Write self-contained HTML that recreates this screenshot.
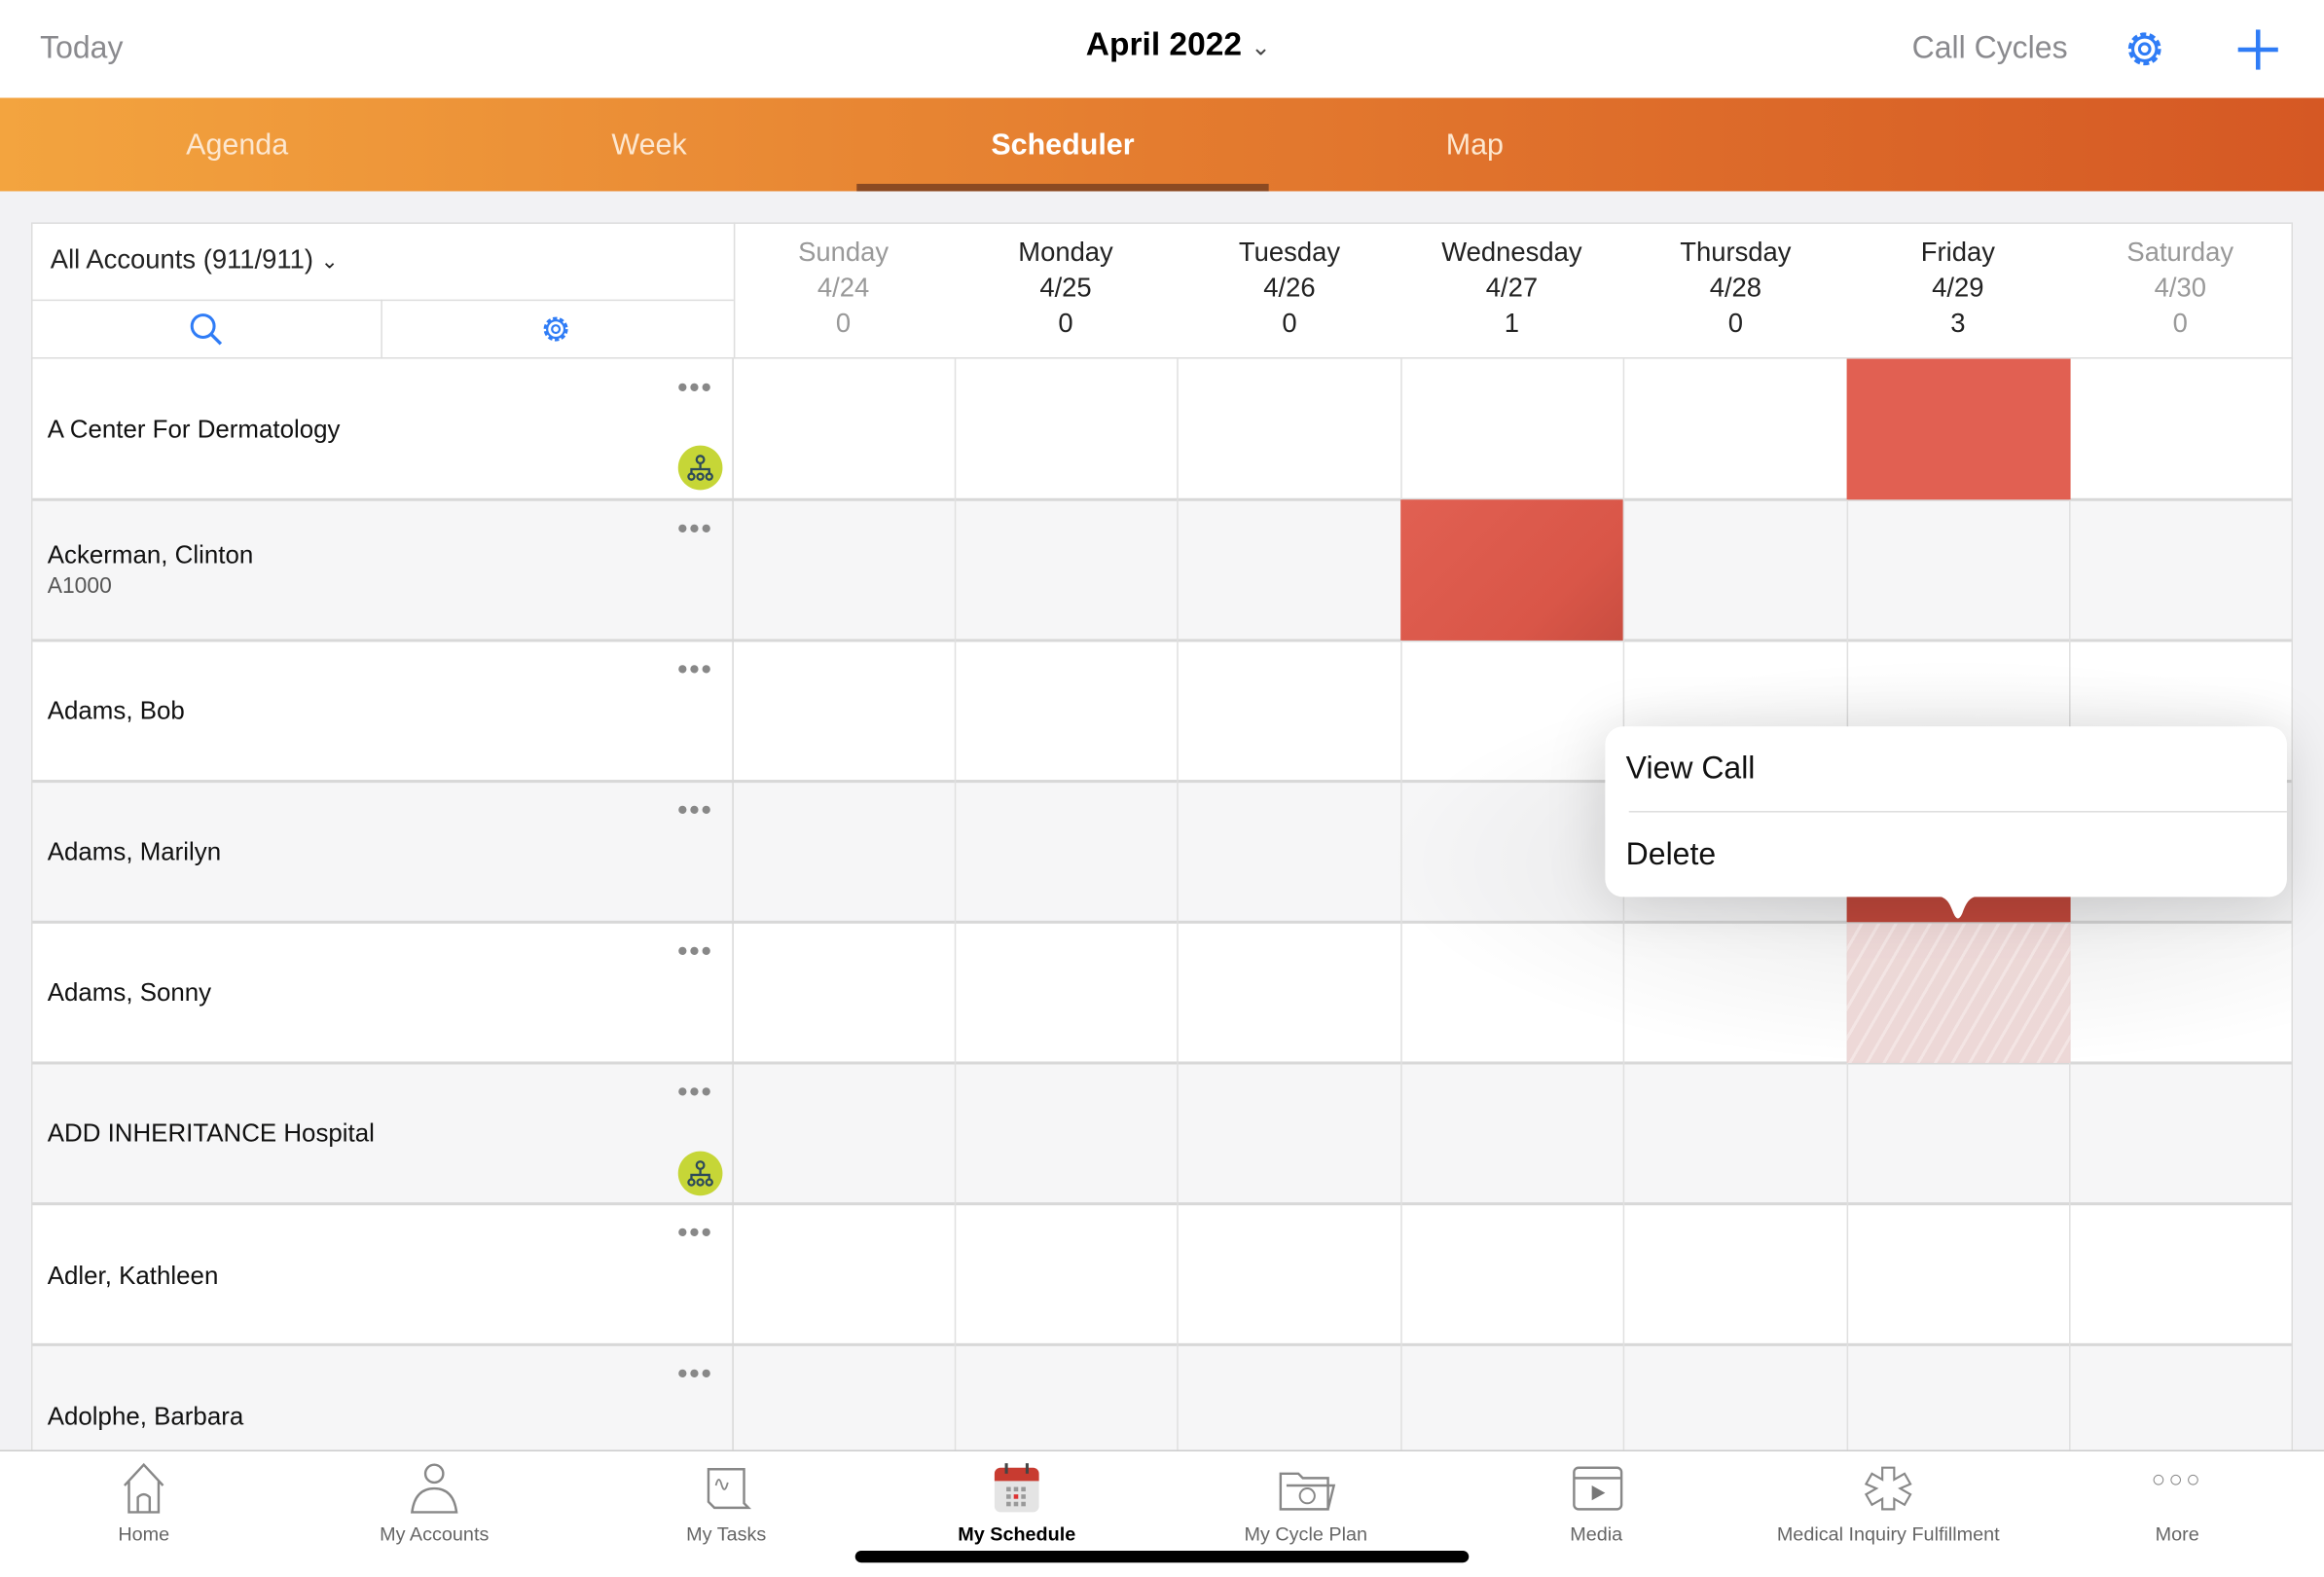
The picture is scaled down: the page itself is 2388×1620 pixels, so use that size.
<!DOCTYPE html>
<html><head><meta charset="utf-8"><style>
*{margin:0;padding:0;box-sizing:border-box}
html,body{width:2388px;height:1620px;overflow:hidden;background:#fff}
#s{position:absolute;left:0;top:0;width:1568px;height:1064px;transform:scale(1.52296);transform-origin:0 0;font-family:"Liberation Sans",sans-serif;background:#f2f2f4}
.a{position:absolute}
.t{position:absolute;white-space:nowrap}
.c{transform:translateX(-50%);text-align:center}
</style></head><body><div id="s">
<div class="a" style="left:0;top:0;width:1568px;height:66px;background:#fff"></div>
<div class="t" style="left:27px;top:21px;font-size:21px;color:#8a8a8e">Today</div>
<div class="t c" style="left:795px;top:17px;font-size:22px;font-weight:bold;color:#000">April 2022 <span style="font-weight:normal;font-size:16px;color:#444">&#8964;</span></div>
<div class="t" style="left:1290px;top:21px;font-size:21px;color:#8a8a8e">Call Cycles</div>
<svg class="a" style="left:1432px;top:18px" width="30" height="30" viewBox="0 0 30 30"><circle cx="15" cy="15" r="10" fill="none" stroke="#2f7cf6" stroke-width="2.2" stroke-dasharray="4 2.3"/><circle cx="15" cy="15" r="8" fill="none" stroke="#2f7cf6" stroke-width="2"/><circle cx="15" cy="15" r="3.5" fill="none" stroke="#2f7cf6" stroke-width="2"/></svg>
<div class="a" style="left:1510px;top:32px;width:27px;height:2.5px;background:#2f7cf6"></div>
<div class="a" style="left:1522px;top:20px;width:2.5px;height:27px;background:#2f7cf6"></div>

<div class="a" style="left:0;top:66px;width:1568px;height:63px;background:linear-gradient(90deg,#f3a43f,#e47c2f 50%,#d55824)"></div>
<div class="t c" style="left:160px;top:87px;font-size:20px;color:#fde7cf">Agenda</div>
<div class="t c" style="left:438px;top:87px;font-size:20px;color:#fde7cf">Week</div>
<div class="t c" style="left:717px;top:87px;font-size:20px;color:#fff;font-weight:bold">Scheduler</div>
<div class="t c" style="left:995px;top:87px;font-size:20px;color:#fde7cf">Map</div>
<div class="a" style="left:578px;top:124px;width:278px;height:5px;background:#8b4a22"></div>

<!-- card -->
<div class="a" style="left:21px;top:150px;width:1526px;height:840px;background:#fff;border:1px solid #ddd"></div>
<div class="a" style="left:495px;top:150px;width:1px;height:92px;background:#ddd"></div>
<div class="a" style="left:21px;top:202px;width:474px;height:1px;background:#ddd"></div>
<div class="a" style="left:257px;top:202px;width:1px;height:40px;background:#ddd"></div>
<div class="a" style="left:21px;top:241px;width:1526px;height:1px;background:#ddd"></div>
<div class="t" style="left:34px;top:165px;font-size:18px;color:#222">All Accounts (911/911) <span style="font-size:14px">&#8964;</span></div>
<svg class="a" style="left:127px;top:210px" width="24" height="24"><circle cx="10" cy="10" r="7.5" fill="none" stroke="#2f7cf6" stroke-width="2"/><line x1="15.5" y1="15.5" x2="22" y2="22" stroke="#2f7cf6" stroke-width="2.2"/></svg>
<svg class="a" style="left:364px;top:211px" width="22" height="22" viewBox="0 0 30 30"><circle cx="15" cy="15" r="10" fill="none" stroke="#2f7cf6" stroke-width="2.4" stroke-dasharray="4 2.3"/><circle cx="15" cy="15" r="8" fill="none" stroke="#2f7cf6" stroke-width="2"/><circle cx="15" cy="15" r="3.5" fill="none" stroke="#2f7cf6" stroke-width="2"/></svg>

<!-- day headers -->
<div style="font-size:18px;line-height:24px">
<div class="t c" style="left:569px;top:158px;color:#999">Sunday<br>4/24<br>0</div>
<div class="t c" style="left:719px;top:158px;color:#222">Monday<br>4/25<br>0</div>
<div class="t c" style="left:870px;top:158px;color:#222">Tuesday<br>4/26<br>0</div>
<div class="t c" style="left:1020px;top:158px;color:#222">Wednesday<br>4/27<br>1</div>
<div class="t c" style="left:1171px;top:158px;color:#222">Thursday<br>4/28<br>0</div>
<div class="t c" style="left:1321px;top:158px;color:#222">Friday<br>4/29<br>3</div>
<div class="t c" style="left:1471px;top:158px;color:#999">Saturday<br>4/30<br>0</div>
</div>

<!-- rows -->
<div class="a" style="left:22px;top:337px;width:1524px;height:95px;background:#f6f6f7"></div>
<div class="a" style="left:22px;top:527px;width:1524px;height:95px;background:#f6f6f7"></div>
<div class="a" style="left:22px;top:717px;width:1524px;height:95px;background:#f6f6f7"></div>
<div class="a" style="left:22px;top:907px;width:1524px;height:72px;background:#f6f6f7"></div>
<div class="a" style="left:22px;top:336px;width:1524px;height:1.5px;background:#d8d8d8"></div>
<div class="a" style="left:22px;top:431px;width:1524px;height:1.5px;background:#d8d8d8"></div>
<div class="a" style="left:22px;top:526px;width:1524px;height:1.5px;background:#d8d8d8"></div>
<div class="a" style="left:22px;top:621px;width:1524px;height:1.5px;background:#d8d8d8"></div>
<div class="a" style="left:22px;top:716px;width:1524px;height:1.5px;background:#d8d8d8"></div>
<div class="a" style="left:22px;top:811px;width:1524px;height:1.5px;background:#d8d8d8"></div>
<div class="a" style="left:22px;top:906px;width:1524px;height:1.5px;background:#d8d8d8"></div>
<div class="a" style="left:494px;top:242px;width:1px;height:736px;background:#d8d8d8"></div>
<div class="a" style="left:644px;top:242px;width:1px;height:736px;background:#e0e0e0"></div>
<div class="a" style="left:794px;top:242px;width:1px;height:736px;background:#e0e0e0"></div>
<div class="a" style="left:945px;top:242px;width:1px;height:736px;background:#e0e0e0"></div>
<div class="a" style="left:1095px;top:242px;width:1px;height:736px;background:#e0e0e0"></div>
<div class="a" style="left:1246px;top:242px;width:1px;height:736px;background:#e0e0e0"></div>
<div class="a" style="left:1396px;top:242px;width:1px;height:736px;background:#e0e0e0"></div>

<div style="font-size:17px;color:#111">
<div class="t" style="left:32px;top:280px">A Center For Dermatology</div>
<div class="t" style="left:32px;top:365px">Ackerman, Clinton</div>
<div class="t" style="left:32px;top:387px;font-size:15px;color:#555">A1000</div>
<div class="t" style="left:32px;top:470px">Adams, Bob</div>
<div class="t" style="left:32px;top:565px">Adams, Marilyn</div>
<div class="t" style="left:32px;top:660px">Adams, Sonny</div>
<div class="t" style="left:32px;top:755px">ADD INHERITANCE Hospital</div>
<div class="t" style="left:32px;top:851px">Adler, Kathleen</div>
<div class="t" style="left:32px;top:946px">Adolphe, Barbara</div>
</div>
<div style="color:#888;font-size:20px;letter-spacing:1px">
<div class="t" style="left:457px;top:251px">•••</div>
<div class="t" style="left:457px;top:346px">•••</div>
<div class="t" style="left:457px;top:441px">•••</div>
<div class="t" style="left:457px;top:536px">•••</div>
<div class="t" style="left:457px;top:631px">•••</div>
<div class="t" style="left:457px;top:726px">•••</div>
<div class="t" style="left:457px;top:821px">•••</div>
<div class="t" style="left:457px;top:916px">•••</div>
</div>
<svg class="a" style="left:457px;top:300px" width="31" height="31"><circle cx="15.5" cy="15.5" r="15" fill="#c6d637"/><circle cx="15.5" cy="10" r="2.5" fill="none" stroke="#2d4a5a" stroke-width="1.5"/><path d="M15.5 12.5v4M9.5 20v-3.5h12V20" fill="none" stroke="#2d4a5a" stroke-width="1.5"/><circle cx="9.5" cy="21.5" r="2" fill="none" stroke="#2d4a5a" stroke-width="1.5"/><circle cx="15.5" cy="21.5" r="2" fill="none" stroke="#2d4a5a" stroke-width="1.5"/><circle cx="21.5" cy="21.5" r="2" fill="none" stroke="#2d4a5a" stroke-width="1.5"/></svg>
<svg class="a" style="left:457px;top:776px" width="31" height="31"><circle cx="15.5" cy="15.5" r="15" fill="#c6d637"/><circle cx="15.5" cy="10" r="2.5" fill="none" stroke="#2d4a5a" stroke-width="1.5"/><path d="M15.5 12.5v4M9.5 20v-3.5h12V20" fill="none" stroke="#2d4a5a" stroke-width="1.5"/><circle cx="9.5" cy="21.5" r="2" fill="none" stroke="#2d4a5a" stroke-width="1.5"/><circle cx="15.5" cy="21.5" r="2" fill="none" stroke="#2d4a5a" stroke-width="1.5"/><circle cx="21.5" cy="21.5" r="2" fill="none" stroke="#2d4a5a" stroke-width="1.5"/></svg>

<!-- shadow overlay -->
<div class="a" style="left:900px;top:432px;width:646px;height:300px;background:radial-gradient(ellipse at 65% 50%,rgba(0,0,0,0.09),rgba(0,0,0,0) 65%)"></div>

<!-- calls -->
<div class="a" style="left:1246px;top:242px;width:151px;height:95px;background:#e16052"></div>
<div class="a" style="left:945px;top:337px;width:150px;height:95px;background:linear-gradient(135deg,#e16052,#d95648 70%,#c94d40)"></div>
<div class="a" style="left:1246px;top:604px;width:151px;height:18px;background:#b94539"></div>
<div class="a" style="left:1246px;top:623px;width:151px;height:94px;background:repeating-linear-gradient(-60deg,#ecd6d5 0 8px,#f3e4e3 8px 10px);opacity:.95"></div>

<!-- popup -->
<div class="a" style="left:1083px;top:490px;width:460px;height:115px;background:#fff;border-radius:12px;box-shadow:0 4px 40px rgba(0,0,0,0.15)"></div>
<svg class="a" style="left:1303px;top:604px" width="36" height="19"><path d="M0 0 C10 0 12 4 15 12 Q18 19 21 12 C24 4 26 0 36 0Z" fill="#fff"/></svg>
<div class="a" style="left:1099px;top:547px;width:444px;height:1px;background:#ddd"></div>
<div class="t" style="left:1097px;top:507px;font-size:21px;color:#111">View Call</div>
<div class="t" style="left:1097px;top:565px;font-size:21px;color:#111">Delete</div>

<!-- bottom bar -->
<div class="a" style="left:0;top:978px;width:1568px;height:86px;background:#fff;border-top:1.5px solid #ccc"></div>
<div style="font-size:13px;color:#666">
<div class="t c" style="left:97px;top:1027px">Home</div>
<div class="t c" style="left:293px;top:1027px">My Accounts</div>
<div class="t c" style="left:490px;top:1027px">My Tasks</div>
<div class="t c" style="left:686px;top:1027px;color:#000;font-weight:bold">My Schedule</div>
<div class="t c" style="left:881px;top:1027px">My Cycle Plan</div>
<div class="t c" style="left:1077px;top:1027px">Media</div>
<div class="t c" style="left:1274px;top:1027px">Medical Inquiry Fulfillment</div>
<div class="t c" style="left:1469px;top:1027px">More</div>
</div>
<svg class="a" style="left:80px;top:986px" width="34" height="36"><path d="M4 16 L17 2 L30 16 M7 13 V34 H27 V13 M13 34 V24 Q17 20 21 24 V34" fill="none" stroke="#888" stroke-width="1.6"/></svg>
<svg class="a" style="left:276px;top:986px" width="34" height="36"><circle cx="17" cy="8" r="6" fill="none" stroke="#888" stroke-width="1.6"/><path d="M2 34 Q4 18 17 18 Q30 18 32 34Z" fill="none" stroke="#888" stroke-width="1.6"/></svg>
<svg class="a" style="left:474px;top:988px" width="34" height="34"><path d="M4 3H28V26L31 29H8L4 25Z" fill="none" stroke="#888" stroke-width="1.6"/><path d="M9 14 Q11 6 13 14 Q15 20 17 12" fill="none" stroke="#888" stroke-width="1.2"/></svg>
<svg class="a" style="left:670px;top:986px" width="32" height="36"><rect x="1" y="4" width="30" height="30" rx="4" fill="#e4e4e4"/><path d="M1 8a4 4 0 0 1 4-4h22a4 4 0 0 1 4 4v5H1Z" fill="#c83b30"/><rect x="8" y="1" width="2" height="7" fill="#444"/><rect x="22" y="1" width="2" height="7" fill="#444"/><rect x="8" y="17" width="16" height="14" fill="none"/><g fill="#999"><rect x="9" y="17" width="3" height="3"/><rect x="14" y="17" width="3" height="3"/><rect x="19" y="17" width="3" height="3"/><rect x="9" y="22" width="3" height="3"/><rect x="19" y="22" width="3" height="3"/><rect x="9" y="27" width="3" height="3"/><rect x="14" y="27" width="3" height="3"/><rect x="19" y="27" width="3" height="3"/></g><rect x="14" y="22" width="3" height="3" fill="#d33"/></svg>
<svg class="a" style="left:862px;top:988px" width="40" height="34"><path d="M2 6H14L17 9H34V30H2Z M6 14H38L34 30" fill="none" stroke="#888" stroke-width="1.6"/><circle cx="20" cy="21" r="5" fill="none" stroke="#888" stroke-width="1.3"/></svg>
<svg class="a" style="left:1060px;top:988px" width="36" height="32"><rect x="2" y="2" width="32" height="28" rx="3" fill="none" stroke="#888" stroke-width="1.6"/><line x1="2" y1="9" x2="34" y2="9" stroke="#888" stroke-width="1.6"/><path d="M14 14 L23 19 L14 24Z" fill="#777"/></svg>
<svg class="a" style="left:1258px;top:988px" width="32" height="32"><path d="M12 2H20V10L27 6L31 13L24 16L31 20L27 27L20 23V30H12V23L5 27L1 20L8 16L1 13L5 6L12 10Z" fill="none" stroke="#888" stroke-width="1.4"/></svg>
<div class="t c" style="left:1469px;top:990px;font-size:16px;color:#888;letter-spacing:2px">○○○</div>
<div class="a" style="left:577px;top:1046px;width:414px;height:8px;border-radius:4px;background:#000"></div>
</div></body></html>
